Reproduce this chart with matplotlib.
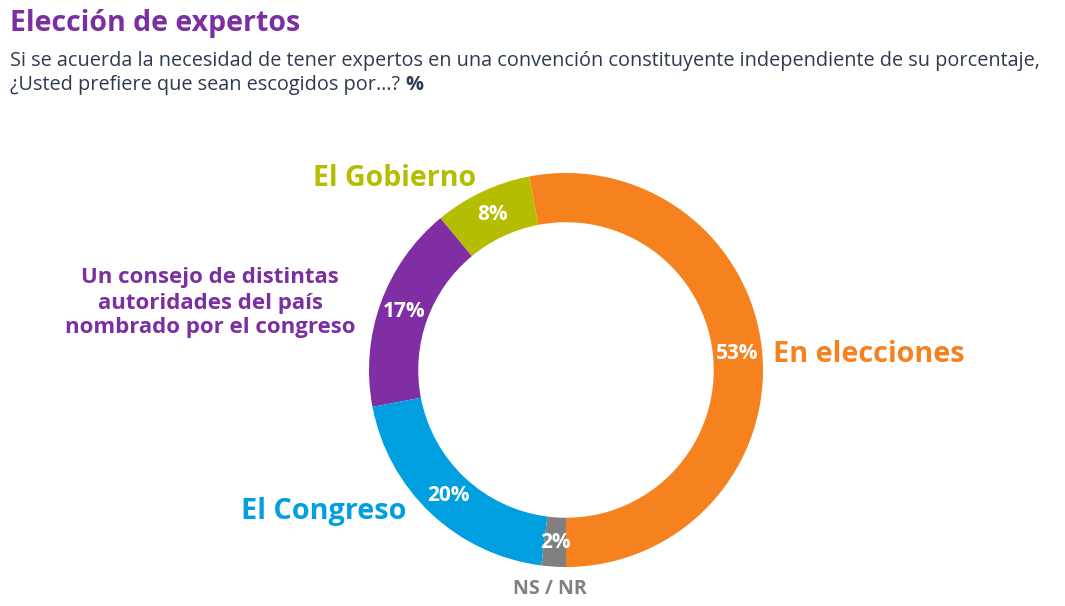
import matplotlib
matplotlib.use("Agg")
import matplotlib.pyplot as plt

# ---------- data -------------------------------------------------------------
categories = ["En elecciones", "El Gobierno",
              "Un consejo de distintas\nautoridades del país\nnombrado por el congreso",
              "El Congreso", "NS / NR"]
values = [53, 8, 17, 20, 2]
colors = ["#F5821F", "#B4BD00", "#7F2FA3", "#009FDF", "#808080"]

PURPLE = "#7B2FA0"
TEXT = "#2E3A4F"
FONT = ["Open Sans", "DejaVu Sans"]

# ---------- figure (axes in pixel units) -------------------------------------
W, H = 1065, 606
fig = plt.figure(figsize=(W / 100, H / 100), dpi=100)
ax = fig.add_axes([0, 0, 1, 1])

cx, cy, R = 566, H - 370, 197
wedges, _, autotexts = ax.pie(
    values, colors=colors, startangle=-90, counterclock=True,
    center=(cx, cy), radius=R, frame=True,
    wedgeprops=dict(width=R * 0.25, linewidth=0),
    autopct=lambda p: f"{p:.0f}%", pctdistance=0.875,
    textprops=dict(color="white", fontsize=15, fontweight="bold", family=FONT))
ax.set_xlim(0, W)
ax.set_ylim(0, H)
ax.set_aspect("equal")
ax.axis("off")

# ---------- category labels --------------------------------------------------
ax.text(773, H - 354, categories[0], color=colors[0], fontsize=20.8,
        fontweight="bold", family=FONT, ha="left", va="center")
ax.text(395, H - 178, categories[1], color=colors[1], fontsize=20.5,
        fontweight="bold", family=FONT, ha="center", va="center")
ax.text(210, H - 303, categories[2], color=PURPLE, fontsize=16,
        fontweight="bold", family=FONT, ha="center", va="center", linespacing=1.25)
ax.text(324, H - 512, categories[3], color=colors[3], fontsize=20.8,
        fontweight="bold", family=FONT, ha="center", va="center")
ax.text(550, H - 589, categories[4], color=colors[4], fontsize=14,
        fontweight="bold", family=FONT, ha="center", va="center")

# ---------- title ------------------------------------------------------------
fig.text(10 / W, 1 - 24 / H, "Elección de expertos", color=PURPLE, fontsize=20.5,
         fontweight="bold", family=FONT, ha="left", va="center")
fig.text(10 / W, 1 - 61 / H,
         "Si se acuerda la necesidad de tener expertos en una convención "
         "constituyente independiente de su porcentaje,",
         color=TEXT, fontsize=14.3, family=FONT, ha="left", va="center")
sub2 = fig.text(10 / W, 1 - 85 / H, "¿Usted prefiere que sean escogidos por…?",
                color=TEXT, fontsize=14.3, family=FONT, ha="left", va="center")
ax.annotate("%", xy=(1, 0.5), xycoords=sub2, xytext=(4, 0),
            textcoords="offset points", color=TEXT, fontsize=14.3,
            fontweight="bold", family=FONT, ha="left", va="center")

fig.savefig("out.png", dpi=100, facecolor="white")
